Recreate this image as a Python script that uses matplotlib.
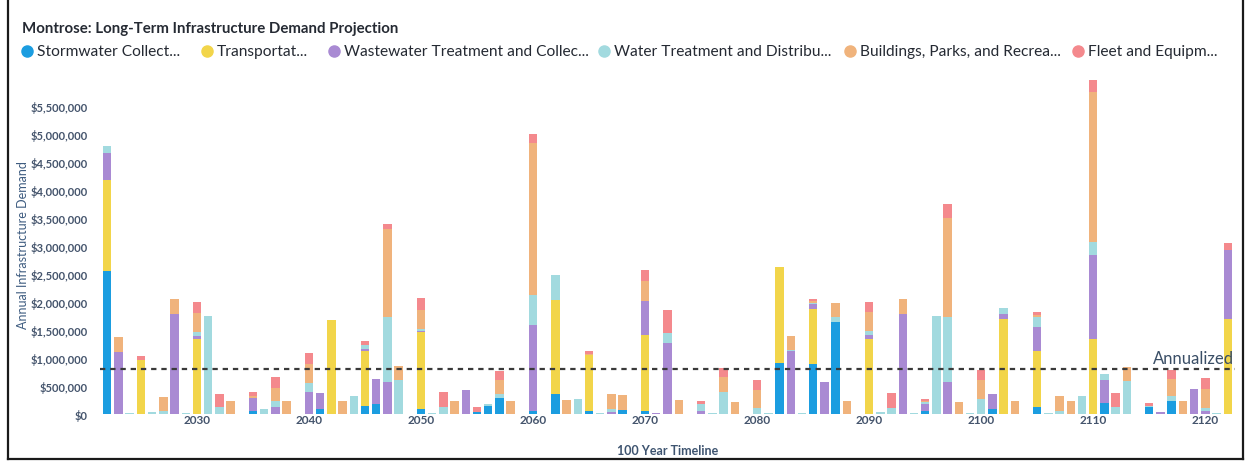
import matplotlib
matplotlib.use("Agg")
import matplotlib.pyplot as plt
from matplotlib.lines import Line2D
from matplotlib.ticker import FuncFormatter
import numpy as np

plt.rcParams["font.family"] = ["Lato", "DejaVu Sans"]

# Projection horizon
years = list(range(2022, 2123))

# Annual demand by asset class, in millions of dollars (years not listed are zero)
stormwater = {
    2022: 2.56, 2035: 0.06, 2041: 0.09, 2045: 0.14, 2046: 0.18, 2050: 0.09,
    2055: 0.04, 2056: 0.15, 2057: 0.28, 2060: 0.05, 2062: 0.35, 2065: 0.06,
    2068: 0.07, 2070: 0.05, 2082: 0.92, 2085: 0.89, 2087: 1.64, 2095: 0.06,
    2101: 0.09, 2105: 0.13, 2111: 0.19, 2115: 0.12, 2117: 0.24,
}
transportation = {
    2022: 1.63, 2025: 0.97, 2030: 1.34, 2042: 1.68, 2045: 0.99, 2050: 1.37,
    2062: 1.68, 2065: 0.99, 2070: 1.37, 2082: 1.71, 2085: 0.98, 2090: 1.35,
    2102: 1.70, 2105: 0.99, 2110: 1.35, 2122: 1.69,
}
wastewater = {
    2022: 0.47, 2023: 1.11, 2028: 1.78, 2030: 0.06, 2035: 0.23, 2037: 0.13,
    2040: 0.39, 2041: 0.29, 2045: 0.04, 2046: 0.45, 2047: 0.58, 2050: 0.02,
    2054: 0.43, 2060: 1.54, 2067: 0.04, 2070: 0.60, 2071: 0.02, 2072: 1.27,
    2075: 0.05, 2083: 1.13, 2085: 0.09, 2086: 0.58, 2090: 0.06, 2093: 1.79,
    2095: 0.12, 2097: 0.58, 2101: 0.26, 2102: 0.08, 2105: 0.43, 2110: 1.50,
    2111: 0.42, 2116: 0.03, 2119: 0.44, 2120: 0.05, 2122: 1.25,
}
water = {
    2022: 0.14, 2024: 0.015, 2026: 0.04, 2027: 0.06, 2029: 0.015, 2030: 0.06,
    2031: 1.75, 2032: 0.12, 2036: 0.09, 2037: 0.10, 2040: 0.16, 2044: 0.32,
    2045: 0.06, 2047: 1.15, 2048: 0.60, 2050: 0.04, 2051: 0.015, 2052: 0.13,
    2056: 0.02, 2057: 0.08, 2060: 0.53, 2062: 0.46, 2064: 0.27, 2066: 0.015,
    2067: 0.05, 2072: 0.18, 2075: 0.12, 2076: 0.015, 2077: 0.40, 2080: 0.10,
    2081: 0.015, 2083: 0.02, 2084: 0.015, 2085: 0.03, 2087: 0.09, 2090: 0.08,
    2091: 0.03, 2092: 0.10, 2094: 0.015, 2095: 0.03, 2096: 1.76, 2097: 1.15,
    2099: 0.015, 2100: 0.27, 2102: 0.12, 2105: 0.19, 2106: 0.015, 2107: 0.06,
    2109: 0.32, 2110: 0.22, 2111: 0.10, 2112: 0.13, 2113: 0.59, 2115: 0.02,
    2117: 0.09, 2120: 0.06, 2121: 0.015,
}
buildings = {
    2023: 0.27, 2027: 0.24, 2028: 0.27, 2030: 0.35, 2033: 0.23, 2035: 0.03,
    2037: 0.23, 2038: 0.23, 2040: 0.34, 2043: 0.23, 2047: 1.58, 2048: 0.25,
    2050: 0.34, 2053: 0.24, 2057: 0.25, 2058: 0.24, 2060: 2.73, 2063: 0.25,
    2065: 0.03, 2067: 0.27, 2068: 0.27, 2070: 0.36, 2073: 0.25, 2077: 0.27,
    2078: 0.22, 2080: 0.33, 2083: 0.24, 2085: 0.03, 2087: 0.25, 2088: 0.23,
    2090: 0.34, 2093: 0.27, 2095: 0.02, 2097: 1.77, 2098: 0.22, 2100: 0.34,
    2103: 0.23, 2105: 0.03, 2107: 0.26, 2108: 0.23, 2110: 2.69, 2113: 0.25,
    2117: 0.30, 2118: 0.23, 2120: 0.34,
}
fleet = {
    2025: 0.07, 2030: 0.19, 2032: 0.24, 2035: 0.07, 2037: 0.20, 2040: 0.20,
    2045: 0.07, 2047: 0.08, 2050: 0.21, 2052: 0.26, 2055: 0.08, 2057: 0.16,
    2060: 0.16, 2065: 0.05, 2070: 0.19, 2072: 0.41, 2075: 0.06, 2077: 0.16,
    2080: 0.18, 2085: 0.04, 2090: 0.18, 2092: 0.27, 2095: 0.04, 2097: 0.25,
    2100: 0.18, 2105: 0.06, 2110: 0.21, 2112: 0.25, 2115: 0.06, 2117: 0.15,
    2120: 0.19, 2122: 0.11,
}

annualized = 810000

series_names = [
    "Stormwater Collect...",
    "Transportat...",
    "Wastewater Treatment and Collec...",
    "Water Treatment and Distribu...",
    "Buildings, Parks, and Recrea...",
    "Fleet and Equipm...",
]
series_data = [stormwater, transportation, wastewater, water, buildings, fleet]
series_colors = ["#1B9DE0", "#F2D54A", "#A98AD3", "#A2DADF", "#F0B37C", "#F4898D"]

fig = plt.figure(figsize=(12.52, 4.64), dpi=100)
W, H = 1252, 464
ax = fig.add_axes([100 / W, 1 - 415 / H, 1135 / W, 340 / H])

bottom = np.zeros(len(years))
for data, color in zip(series_data, series_colors):
    vals = np.array([data.get(y, 0.0) for y in years]) * 1e6
    ax.bar(years, vals, bottom=bottom, width=0.75, color=color, linewidth=0)
    bottom += vals

ax.axhline(annualized, color="#3a3a3a", lw=1.6, ls=(0, (2.4, 2.2)), zorder=3)
ax.text(2122.55, annualized + 40000, "Annualized", ha="right", va="bottom",
        fontsize=12, color="#3A4E66")

ax.set_xlim(2021.35, 2122.65)
ax.set_ylim(0, 6.08e6)
ax.set_xticks(range(2030, 2121, 10))
ax.set_yticks(np.arange(0, 5.5e6 + 1, 5e5))
ax.yaxis.set_major_formatter(FuncFormatter(lambda v, p: f"${v:,.0f}"))
ax.tick_params(axis="both", length=0, colors="#44546C")
for lab in ax.get_yticklabels():
    lab.set_fontsize(8)
    lab.set_fontweight("bold")
for lab in ax.get_xticklabels():
    lab.set_fontsize(8.5)
    lab.set_fontweight("bold")
ax.tick_params(axis="x", pad=0)
ax.tick_params(axis="y", pad=9)
for s in ax.spines.values():
    s.set_visible(False)

ax.set_ylabel("Annual Infrastructure Demand", fontsize=9, color="#3E5C80")
ax.yaxis.set_label_coords(-0.0625, 0.5)
ax.set_xlabel("100 Year Timeline", fontsize=9, fontweight="bold", color="#3E5470", labelpad=14)

# Title and legend row
fig.text(22 / W, 1 - 29 / H, "Montrose: Long-Term Infrastructure Demand Projection",
         fontsize=10.8, fontweight="bold", color="#252A33", va="center", ha="left")

legend_x = [27, 207, 334, 604, 850, 1078]
for x, name, color in zip(legend_x, series_names, series_colors):
    fig.add_artist(Line2D([x / W], [1 - 52 / H], marker="o", markersize=8,
                          color=color, linestyle="none", transform=fig.transFigure))
    fig.text((x + 10) / W, 1 - 52 / H, name, fontsize=11.2, color="#252A33",
             va="center", ha="left")

# Card border
border = dict(color="#1a1a1a", lw=1.6, transform=fig.transFigure)
fig.add_artist(Line2D([8 / W, 8 / W], [0.008, 1.0], **border))
fig.add_artist(Line2D([1243 / W, 1243 / W], [0.008, 1.0], **border))
fig.add_artist(Line2D([8 / W, 1243 / W], [0.008, 0.008], **border))

fig.savefig("out.png", dpi=100)
